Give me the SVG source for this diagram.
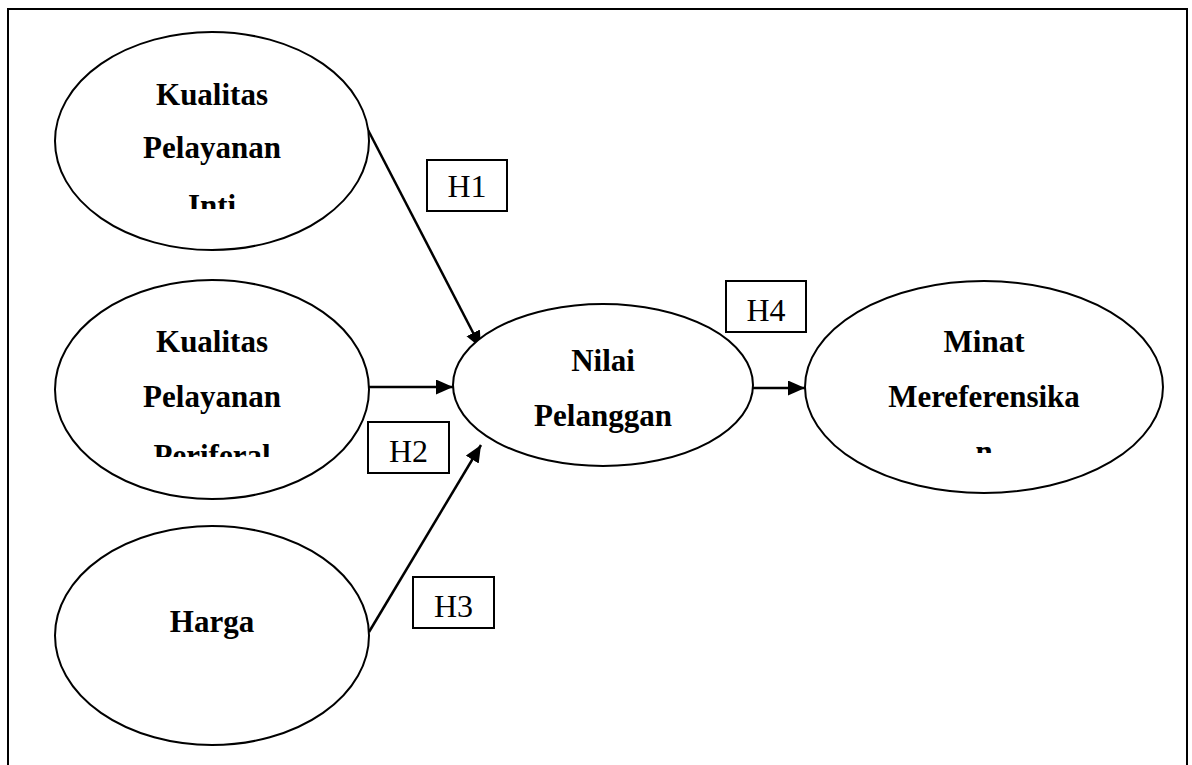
<svg xmlns="http://www.w3.org/2000/svg" width="1192" height="765" viewBox="0 0 1192 765">
  <style>
    .node { fill: #fff; stroke: #000; stroke-width: 2; }
    .lbl { font-family: "Liberation Serif", "Times New Roman", serif; font-weight: bold; font-size: 31px; text-anchor: middle; fill: #000; }
    .hbox { fill: #fff; stroke: #000; stroke-width: 2; }
    .htxt { font-family: "Liberation Serif", "Times New Roman", serif; font-size: 32px; text-anchor: middle; fill: #000; }
    .edge { stroke: #000; stroke-width: 2.5; fill: none; marker-end: url(#arr); }
  </style>
  <defs>
    <marker id="arr" markerUnits="userSpaceOnUse" markerWidth="18" markerHeight="16" refX="17" refY="7.5" orient="auto">
      <path d="M0,0 L17,7.5 L0,15 z" fill="#000"/>
    </marker>
    <clipPath id="c1"><rect x="55" y="30" width="315" height="179"/></clipPath>
    <clipPath id="c2"><rect x="55" y="280" width="315" height="177"/></clipPath>
    <clipPath id="c5"><rect x="805" y="281" width="358" height="172"/></clipPath>
  </defs>
  <rect width="1192" height="765" fill="#fff"/>
  <path d="M8,765 L8,9 L1187,9 L1187,765" fill="none" stroke="#000" stroke-width="2"/>

  <g id="connectors">
    <line class="edge" x1="367" y1="128" x2="481" y2="348"/>
    <line class="edge" x1="369" y1="387" x2="453" y2="387"/>
    <line class="edge" x1="369" y1="632" x2="481" y2="445"/>
    <line class="edge" x1="753" y1="388" x2="805" y2="388"/>
  </g>

  <g id="node-kpi">
    <ellipse class="node" cx="212" cy="141" rx="157" ry="109"/>
    <g clip-path="url(#c1)">
      <text class="lbl" x="212" y="105">Kualitas</text>
      <text class="lbl" x="212" y="158">Pelayanan</text>
      <text class="lbl" x="212" y="216">Inti</text>
    </g>
  </g>
  <g id="node-kpp">
    <ellipse class="node" cx="212" cy="389.5" rx="157" ry="109.5"/>
    <g clip-path="url(#c2)">
      <text class="lbl" x="212" y="352">Kualitas</text>
      <text class="lbl" x="212" y="407">Pelayanan</text>
      <text class="lbl" x="212" y="466">Periferal</text>
    </g>
  </g>
  <g id="node-harga">
    <ellipse class="node" cx="212" cy="635.5" rx="157" ry="109.5"/>
    <text class="lbl" x="212" y="632">Harga</text>
  </g>
  <g id="node-nilai">
    <ellipse class="node" cx="603" cy="385" rx="150" ry="81"/>
    <text class="lbl" x="603" y="371">Nilai</text>
    <text class="lbl" x="603" y="426">Pelanggan</text>
  </g>
  <g id="node-minat">
    <ellipse class="node" cx="984" cy="387" rx="179" ry="106"/>
    <g clip-path="url(#c5)">
      <text class="lbl" x="984" y="352">Minat</text>
      <text class="lbl" x="984" y="407">Mereferensika</text>
      <text class="lbl" x="984" y="462">n</text>
    </g>
  </g>

  <g id="label-h1">
    <rect class="hbox" x="427" y="160" width="80" height="51"/>
    <text class="htxt" x="467" y="197">H1</text>
  </g>
  <g id="label-h2">
    <rect class="hbox" x="368" y="422" width="81" height="51"/>
    <text class="htxt" x="408.5" y="462">H2</text>
  </g>
  <g id="label-h3">
    <rect class="hbox" x="413" y="577" width="81" height="51"/>
    <text class="htxt" x="453.5" y="617">H3</text>
  </g>
  <g id="label-h4">
    <rect class="hbox" x="726" y="281" width="80" height="51"/>
    <text class="htxt" x="766" y="321">H4</text>
  </g>
</svg>
